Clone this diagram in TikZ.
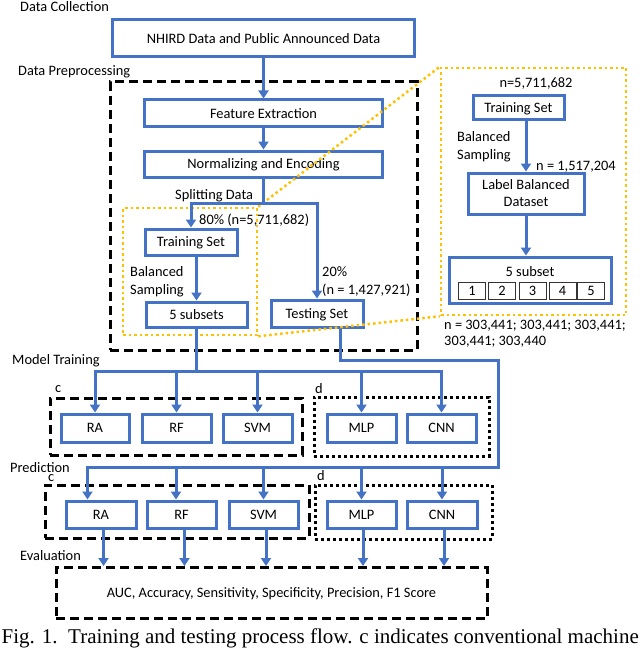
\documentclass[tikz,border=0pt]{standalone}
\usepackage{fontspec}
\setmainfont{Carlito}
\newfontfamily\capfont{Liberation Serif}
\usetikzlibrary{arrows.meta,calc}
\definecolor{boxblue}{HTML}{4472C4}
\definecolor{gold}{HTML}{FFC000}
\begin{document}
\begin{tikzpicture}[x=1pt,y=-1pt,
  every node/.style={font=\fontsize{14.4}{17}\selectfont, inner sep=0pt},
  bxb/.style={draw=boxblue, line width=3pt, fill=white},
  bx/.style={bxb, text height=9.3pt, text depth=0pt},
  lbl/.style={anchor=west, text height=9.3pt, text depth=0pt},
  blk/.style={draw=black, line width=3pt, dash pattern=on 9pt off 5pt},
  dotbox/.style={draw=black, line width=3pt, dash pattern=on 3pt off 3pt},
  odot/.style={draw=gold, line width=2.5pt, dash pattern=on 2.5pt off 3pt},
  ln/.style={draw=boxblue, line width=3pt},
  arr/.style={ln, -{Triangle[width=10pt,length=8pt]}},
  sq/.style={draw=black!80, line width=0.8pt, minimum width=27pt, minimum height=17pt, text height=9.3pt, text depth=0pt},
]
\useasboundingbox (0,0) rectangle (640,650);

% containers
\node[blk, minimum width=307, minimum height=268] (pre) at (263.5,216) {};
\node[blk, minimum width=252, minimum height=57] (cb1) at (176,426.5) {};
\node[dotbox, minimum width=175, minimum height=59] (db1) at (401.5,426.5) {};
\node[blk, minimum width=264, minimum height=53] (cb2) at (177,511.5) {};
\node[dotbox, minimum width=177, minimum height=54] (db2) at (403.5,512) {};
\node[blk, minimum width=431, minimum height=51, text height=9.3pt, text depth=0pt] (eval) at (271.5,593) {AUC, Accuracy, Sensitivity, Specificity, Precision, F1 Score};

% main boxes
\node[bx, minimum width=302, minimum height=37] (nhird) at (263.5,38.5) {NHIRD Data and Public Announced Data};
\node[bx, minimum width=238, minimum height=27] (feat) at (263.5,113.5) {Feature Extraction};
\node[bx, minimum width=238, minimum height=26] (norm) at (263.5,164) {Normalizing and Encoding};
\node[bx, minimum width=92, minimum height=26] (tr1) at (191,242) {Training Set};
\node[bx, minimum width=101, minimum height=25] (sub1) at (196.5,314.5) {5 subsets};
\node[bx, minimum width=92, minimum height=27] (test) at (317,313.5) {Testing Set};

% detail boxes
\node[bx, minimum width=91, minimum height=24] (tr2) at (518.5,108) {Training Set};
\node[bxb, minimum width=116, minimum height=41, align=center] (lbd) at (526,193.5) {Label Balanced\\Dataset};
\node[bxb, minimum width=162, minimum height=46] (fives) at (530,280) {};
\node[lbl, anchor=center] (fivest) at (530,271.7) {5 subset};
\node[sq] (s1) at (472,290.5) {1};
\node[sq] (s2) at (502,290.5) {2};
\node[sq] (s3) at (532.5,290.5) {3};
\node[sq] (s4) at (562.5,290.5) {4};
\node[sq] (s5) at (591,290.5) {5};

% model training boxes
\node[bx, minimum width=68, minimum height=28] (ra1) at (95,428) {RA};
\node[bx, minimum width=69, minimum height=28] (rf1) at (176.5,428) {RF};
\node[bx, minimum width=69, minimum height=28] (svm1) at (257.5,428) {SVM};
\node[bx, minimum width=69, minimum height=28] (mlp1) at (361.5,428) {MLP};
\node[bx, minimum width=69, minimum height=28] (cnn1) at (441.5,428) {CNN};

% prediction boxes
\node[bx, minimum width=70, minimum height=27] (ra2) at (101,514.5) {RA};
\node[bx, minimum width=69, minimum height=27] (rf2) at (181.5,514.5) {RF};
\node[bx, minimum width=69, minimum height=27] (svm2) at (263.5,514.5) {SVM};
\node[bx, minimum width=69, minimum height=27] (mlp2) at (361.5,514.5) {MLP};
\node[bx, minimum width=70, minimum height=27] (cnn2) at (442,514.5) {CNN};

% orange zoom frames
\node[odot, minimum width=134, minimum height=127] (ob1) at (190,271.5) {};
\node[odot, minimum width=185, minimum height=247] (ob2) at (533.5,191.5) {};
\draw[odot] (ob1.north east) -- (ob2.north west);
\draw[odot] (ob1.south east) -- (ob2.south west);

% labels
\node[lbl] (dc) at (20,7) {Data Collection};
\node[lbl] (dp) at (18,71.3) {Data Preprocessing};
\node[lbl] (sd) at (175,195) {Splitting Data};
\node[lbl] (p80) at (199,219.5) {80\% (n=5,711,682)};
\node[lbl] (bs1a) at (130,272) {Balanced};
\node[lbl] (bs1b) at (130,289.5) {Sampling};
\node[lbl] (p20a) at (322,271.5) {20\%};
\node[lbl] (p20b) at (322,289.5) {(n = 1,427,921)};
\node[lbl, anchor=center] (n1) at (536,82.5) {n=5,711,682};
\node[lbl] (bs2a) at (457,137.3) {Balanced};
\node[lbl] (bs2b) at (457,154.7) {Sampling};
\node[lbl] (n2) at (536,165.5) {n = 1,517,204};
\node[lbl] (n3a) at (444,325) {n = 303,441; 303,441; 303,441;};
\node[lbl] (n3b) at (444,341) {303,441; 303,440};
\node[lbl] (mt) at (12,360) {Model Training};
\node[lbl] (pr) at (10,468) {Prediction};
\node[lbl] (ev) at (20,556) {Evaluation};
\node[anchor=base west] (c1l) at (55,392.7) {c};
\node[anchor=base west] (d1l) at (315,393.3) {d};
\node[anchor=base west] (c2l) at (48,481.7) {c};
\node[anchor=base west] (d2l) at (317,480.7) {d};

% connectors
\draw[arr] (nhird.south) -- (feat.north);
\draw[arr] (feat.south) -- (norm.north);
\coordinate (sp) at (263.5,203);
\draw[arr] (norm.south) -- (sp) -| (tr1.north);
\draw[arr] (sp) -| (test.north);
\draw[arr] (sub1.north |- tr1.south) -- (sub1.north);
\draw[arr] (lbd.north |- tr2.south) -- (lbd.north);
\draw[arr] (lbd.south) -- (lbd.south |- fives.north);

\coordinate (mb) at (196.5,371);
\draw[arr] (sub1.south) -- (mb) -| (ra1.north);
\draw[arr] (mb) -| (rf1.north);
\draw[arr] (mb) -| (svm1.north);
\draw[arr] (mb) -| (mlp1.north);
\draw[arr] (mb) -| (cnn1.north);

\coordinate (tq) at (340,360);
\coordinate (tr) at (498,360);
\coordinate (tb) at (498,467);
\coordinate (pa) at ($(ra2.north west)+(23,0)$);
\coordinate (pb) at ($(rf2.north)+(-5.5,0)$);
\draw[arr] (test.south -| tq) -- (tq) -- (tr) -- (tb) -| (pa);
\draw[arr] (tb) -| (pb);
\draw[arr] (tb) -| (svm2.north);
\draw[arr] (tb) -| (mlp2.north);
\draw[arr] (tb) -| (cnn2.north);

\coordinate (e1) at ($(ra2.south)+(2.5,0)$);
\coordinate (e2) at ($(rf2.south)+(3,0)$);
\coordinate (e3) at ($(svm2.south)+(2.5,0)$);
\coordinate (e4) at ($(mlp2.south)+(1.5,0)$);
\coordinate (e5) at ($(cnn2.south)+(2,0)$);
\draw[arr] (e1) -- (e1 |- eval.north);
\draw[arr] (e2) -- (e2 |- eval.north);
\draw[arr] (e3) -- (e3 |- eval.north);
\draw[arr] (e4) -- (e4 |- eval.north);
\draw[arr] (e5) -- (e5 |- eval.north);

% caption
\node[anchor=base west, font=\capfont\fontsize{21}{25}\selectfont] (cap) at (1.5,643) {Fig. 1.\ \ Training and testing process flow. c indicates conventional machine};
\end{tikzpicture}
\end{document}
